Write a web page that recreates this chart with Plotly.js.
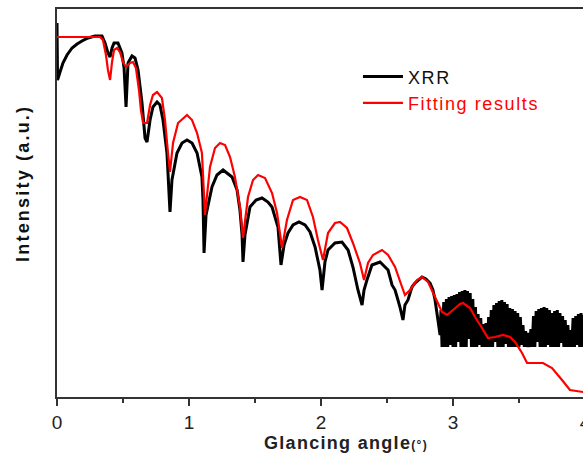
<!DOCTYPE html>
<html>
<head>
<meta charset="utf-8">
<script src="https://cdn.plot.ly/plotly-3.0.1.min.js"></script>
<style>
html, body { margin: 0; padding: 0; overflow: hidden; background: #fff; width: 583px; height: 455px; }
#chart { width: 600px; height: 455px; }
.legendtext { letter-spacing: 1.6px; }
.annotation-text { letter-spacing: 1.3px; }
.annotation[data-index="0"] .annotation-text { letter-spacing: 2.2px; }
</style>
</head>
<body>
<div id="chart"></div>
<script>
// Glancing angle (degrees) and intensity (arbitrary units)
const xrrAngle = [0, 0.004, 0.023, 0.045, 0.076, 0.114, 0.152, 0.189, 0.235, 0.288, 0.341, 0.364, 0.386, 0.402, 0.417, 0.432, 0.462, 0.492, 0.508, 0.523, 0.538, 0.568, 0.591, 0.614, 0.644, 0.667, 0.682, 0.705, 0.727, 0.758, 0.780, 0.803, 0.833, 0.856, 0.871, 0.909, 0.947, 0.985, 1.023, 1.061, 1.098, 1.106, 1.114, 1.129, 1.174, 1.212, 1.258, 1.326, 1.364, 1.386, 1.402, 1.409, 1.424, 1.462, 1.508, 1.553, 1.598, 1.629, 1.674, 1.697, 1.720, 1.750, 1.788, 1.833, 1.879, 1.917, 1.955, 1.992, 2.008, 2.030, 2.053, 2.106, 2.159, 2.205, 2.242, 2.280, 2.311, 2.326, 2.348, 2.386, 2.447, 2.508, 2.538, 2.561, 2.583, 2.598, 2.621, 2.636, 2.659, 2.689, 2.712, 2.765, 2.795, 2.826, 2.848, 2.864, 2.886, 2.902, 2.909, 2.917,
  2.93, 2.94, 2.95, 2.96, 2.97, 2.98, 2.99, 3.00, 3.01, 3.02, 3.03, 3.04, 3.05, 3.06, 3.07, 3.08, 3.09, 3.10, 3.11, 3.12, 3.13, 3.14, 3.15, 3.16, 3.17, 3.18, 3.19, 3.20, 3.21, 3.22, 3.23, 3.24, 3.25, 3.26, 3.27, 3.28, 3.29, 3.30, 3.31, 3.32, 3.33, 3.34, 3.35, 3.36, 3.37, 3.38, 3.39, 3.40, 3.41, 3.42, 3.43, 3.44, 3.45, 3.46, 3.47, 3.48, 3.49, 3.50, 3.51, 3.52, 3.53, 3.54, 3.55, 3.56, 3.57, 3.58, 3.59, 3.60, 3.61, 3.62, 3.63, 3.64, 3.65, 3.66, 3.67, 3.68, 3.69, 3.70, 3.71, 3.72, 3.73, 3.74, 3.75, 3.76, 3.77, 3.78, 3.79, 3.80, 3.81, 3.82, 3.83, 3.84, 3.85, 3.86, 3.87, 3.88, 3.89, 3.90, 3.91, 3.92, 3.93, 3.94, 3.95, 3.96, 3.97, 3.98, 3.99, 4.00];
const xrrIntensity = [374, 317, 325, 334, 342, 349, 353, 356, 359, 361, 361, 354, 344, 340, 349, 354, 354, 344, 329, 290, 334, 341, 339, 327, 294, 259, 255, 277, 290, 295, 292, 277, 244, 185, 217, 244, 254, 257, 254, 244, 220, 197, 144, 182, 210, 222, 227, 220, 207, 187, 162, 135, 162, 190, 197, 199, 195, 190, 170, 132, 152, 164, 172, 175, 172, 165, 150, 127, 107, 135, 147, 154, 155, 147, 130, 107, 92, 107, 117, 132, 135, 127, 112, 107, 97, 90, 77, 92, 97, 110, 114, 120, 118, 114, 107, 97, 77, 62, 87, 50,
  95, 50, 98, 50, 100, 52, 101, 50, 102, 50, 103, 55, 105, 50, 106, 50, 107, 50, 106, 58, 104, 50, 98, 50, 90, 50, 83, 52, 79, 50, 73, 50, 74, 50, 80, 50, 87, 50, 92, 55, 94, 50, 96, 50, 97, 50, 95, 53, 93, 50, 89, 50, 88, 50, 86, 50, 84, 50, 80, 52, 72, 50, 66, 50, 64, 50, 68, 50, 81, 50, 86, 55, 88, 50, 89, 50, 90, 50, 89, 52, 87, 50, 84, 50, 86, 50, 87, 50, 84, 54, 81, 50, 77, 50, 72, 50, 67, 50, 79, 50, 81, 52, 83, 50, 84, 50, 82, 50];

const fitAngle = [0, 0.326, 0.348, 0.371, 0.386, 0.402, 0.417, 0.432, 0.455, 0.477, 0.500, 0.523, 0.553, 0.576, 0.598, 0.621, 0.636, 0.652, 0.682, 0.705, 0.727, 0.758, 0.795, 0.818, 0.841, 0.856, 0.879, 0.917, 0.985, 1.023, 1.061, 1.098, 1.121, 1.159, 1.197, 1.235, 1.273, 1.311, 1.348, 1.386, 1.409, 1.447, 1.485, 1.523, 1.576, 1.629, 1.667, 1.705, 1.742, 1.788, 1.841, 1.894, 1.939, 1.977, 2.015, 2.053, 2.106, 2.144, 2.197, 2.242, 2.295, 2.326, 2.356, 2.394, 2.462, 2.508, 2.561, 2.614, 2.636, 2.674, 2.727, 2.765, 2.811, 2.864, 2.917, 2.955, 3.000, 3.053, 3.076, 3.129, 3.167, 3.220, 3.265, 3.318, 3.379, 3.432, 3.470, 3.523, 3.561, 3.682, 3.750, 3.826, 3.886, 3.985, 4.0];
const fitIntensity = [360, 360, 357, 342, 327, 317, 335, 347, 349, 345, 335, 330, 334, 335, 329, 307, 287, 274, 274, 292, 302, 305, 299, 277, 244, 225, 254, 274, 282, 277, 264, 244, 182, 230, 249, 254, 252, 240, 220, 190, 159, 200, 217, 222, 219, 204, 184, 149, 177, 197, 200, 197, 180, 157, 137, 164, 174, 175, 169, 154, 134, 117, 134, 142, 147, 142, 130, 110, 102, 107, 117, 120, 115, 100, 85, 82, 87, 93, 94, 89, 80, 69, 59, 60, 62, 60, 55, 44, 34, 34, 29, 17, 7, 5, 5];

const seriesNames = ['XRR', 'Fitting results'];
const xTickVals = [0, 1, 2, 3, 4];
const xTickText = ['0', '1', '2', '3', '4'];

const traces = [
  { x: xrrAngle, y: xrrIntensity, mode: 'lines', name: seriesNames[0],
    line: { color: '#000000', width: 3, simplify: false }, hoverinfo: 'skip' },
  { x: fitAngle, y: fitIntensity, mode: 'lines', name: '<span style="color:#ff0000">' + seriesNames[1] + '</span>',
    line: { color: '#ff0000', width: 2.2, simplify: false }, hoverinfo: 'skip' }
];

const layout = {
  width: 600, height: 455,
  margin: { l: 57, r: 15, t: 9, b: 58 },
  paper_bgcolor: '#ffffff', plot_bgcolor: '#ffffff',
  font: { family: 'Arial, "Liberation Sans", sans-serif', color: '#222222' },
  showlegend: true,
  legend: { x: 0.57, y: 0.873, xanchor: 'left', yanchor: 'top', bgcolor: 'rgba(0,0,0,0)',
            font: { size: 18, color: '#111111' }, itemwidth: 40, tracegroupgap: 0 },
  xaxis: { range: [0, 4], showgrid: false, zeroline: false, showline: true, mirror: true,
           linecolor: '#333333', linewidth: 2, ticks: 'outside', ticklen: 7, tickwidth: 2, tickcolor: '#333333',
           tickvals: xTickVals, ticktext: xTickText, tickfont: { size: 19, color: '#222222' },
           minor: { dtick: 0.5, ticks: 'outside', ticklen: 4, tickwidth: 2, tickcolor: '#333333', showgrid: false } },
  yaxis: { range: [0, 388], showgrid: false, zeroline: false, showline: true, mirror: true,
           linecolor: '#333333', linewidth: 2, ticks: '', showticklabels: false },
  annotations: [
    { text: '<b>Intensity (a.u.)</b>', xref: 'paper', yref: 'paper', x: -0.066, y: 0.55,
      xanchor: 'center', yanchor: 'middle', textangle: -90, showarrow: false,
      font: { size: 18, color: '#111111' } },
    { text: '<b>Glancing angle<span style="font-size:12px">(°)</span></b>', xref: 'paper', yref: 'paper', x: 0.547, y: -0.1186,
      xanchor: 'center', yanchor: 'middle', showarrow: false,
      font: { size: 18, color: '#222222' } }
  ]
};

Plotly.newPlot('chart', traces, layout, { displayModeBar: false, staticPlot: true });
</script>
</body>
</html>
